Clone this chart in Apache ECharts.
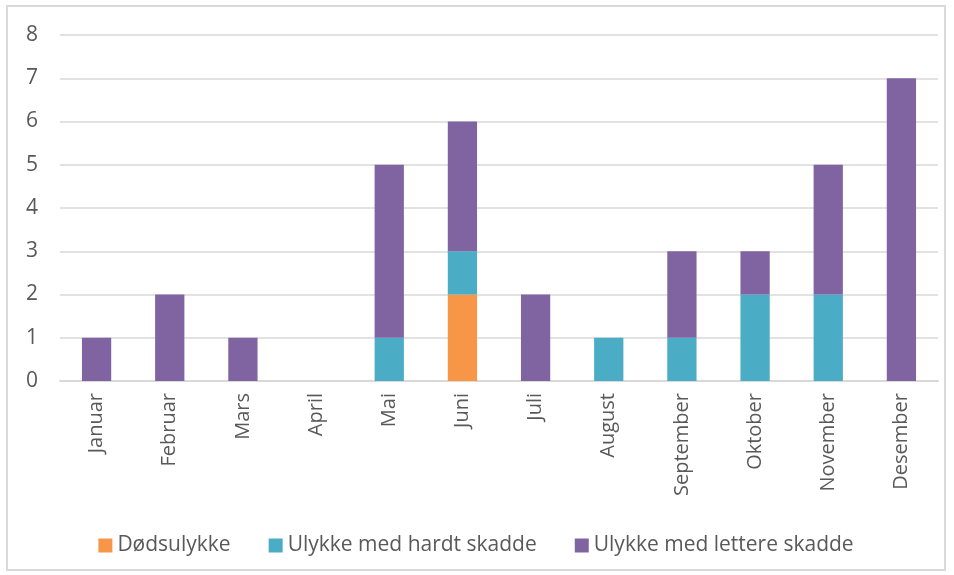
<!DOCTYPE html>
<html>
<head>
<meta charset="utf-8">
<script src="https://cdn.jsdelivr.net/npm/echarts@6/dist/echarts.min.js"></script>
<style>
  html, body { margin: 0; padding: 0; background: #fff; }
  #chart { position: absolute; left: 6px; top: 5px; width: 940px; height: 566px;
           border: 2px solid #d9d9d9; box-sizing: border-box; }
</style>
</head>
<body>
<div id="chart"></div>
<script>
// Data
const months = ['Januar', 'Februar', 'Mars', 'April', 'Mai', 'Juni', 'Juli',
  'August', 'September', 'Oktober', 'November', 'Desember'];
const dodsulykke = [0, 0, 0, 0, 0, 2, 0, 0, 0, 0, 0, 0];
const hardtSkadde = [0, 0, 0, 0, 1, 1, 0, 1, 1, 2, 2, 0];
const lettereSkadde = [1, 2, 1, 0, 4, 3, 2, 0, 2, 1, 3, 7];
const yTicks = { min: 0, max: 8, interval: 1 };

const font = '"Open Sans", "Liberation Sans", sans-serif';
const mkSeries = (name, data, color) => ({
  name: name,
  type: 'bar',
  stack: 'total',
  barWidth: '40%',
  itemStyle: { color: color },
  data: data.map(v => v === 0 ? null : v)
});

const option = {
  animation: false,
  textStyle: { fontFamily: font },
  grid: { left: 52, right: 6, top: 28, bottom: 188 },
  legend: {
    bottom: 8,
    left: 'center',
    icon: 'rect',
    itemWidth: 14,
    itemHeight: 14,
    itemGap: 38,
    textStyle: { fontSize: 21, color: '#595959', fontFamily: font }
  },
  xAxis: {
    type: 'category',
    data: months,
    axisLine: { lineStyle: { color: '#d9d9d9', width: 2 } },
    axisTick: { show: false },
    axisLabel: { rotate: 90, fontSize: 20, color: '#595959', margin: 12, interval: 0 }
  },
  yAxis: {
    type: 'value',
    min: yTicks.min,
    max: yTicks.max,
    interval: yTicks.interval,
    axisLine: { show: false },
    axisTick: { show: false },
    axisLabel: { fontSize: 21, color: '#595959', margin: 22 },
    splitLine: { lineStyle: { color: '#d9d9d9', width: 1.5 } }
  },
  series: [
    mkSeries('Dødsulykke', dodsulykke, '#f79646'),
    mkSeries('Ulykke med hardt skadde', hardtSkadde, '#4bacc6'),
    mkSeries('Ulykke med lettere skadde', lettereSkadde, '#8064a2')
  ]
};

var myChart = echarts.init(document.getElementById('chart'));
myChart.setOption(option);
</script>
</body>
</html>
